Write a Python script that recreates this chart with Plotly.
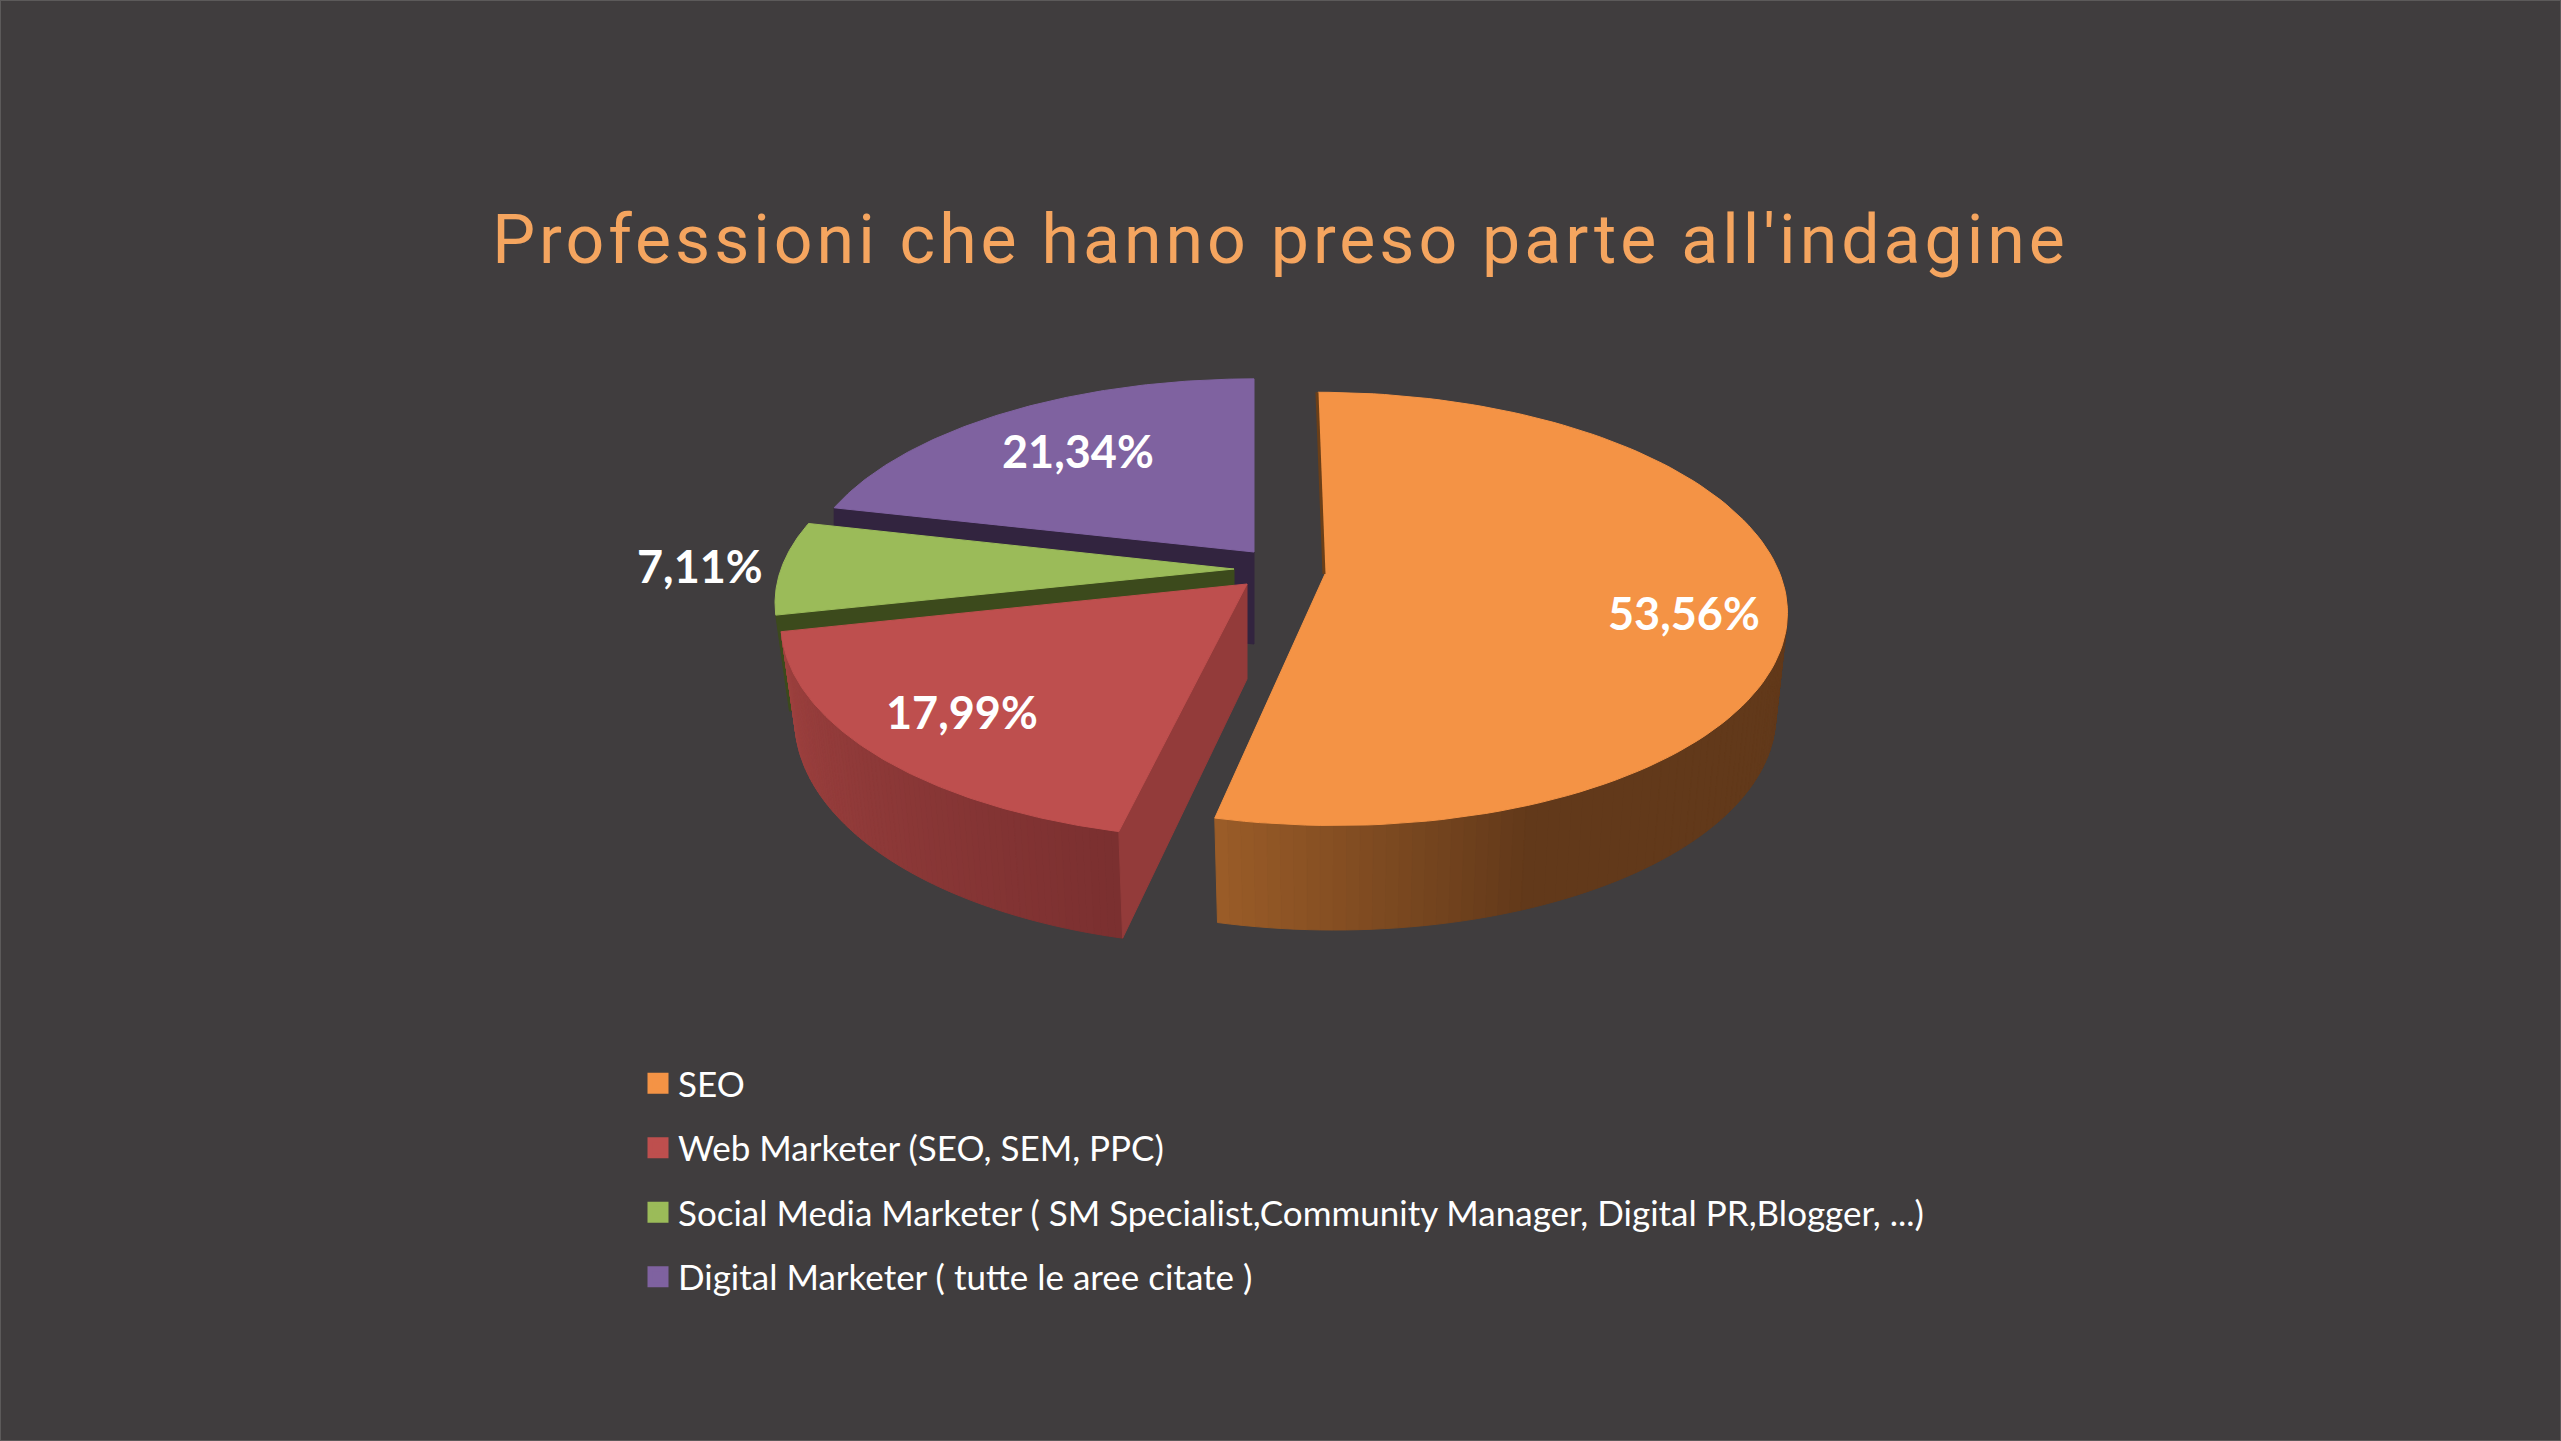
'''
Exploded 3D-look pie of the survey professions. Plotly has no 3D pie so the
slices are filled scatter polygons, angles come from the shares.
'''

import numpy as np
import plotly.graph_objects as go

W, H = 2561, 1441

categories = ['SEO', 'Web Marketer (SEO, SEM, PPC)',
              'Social Media Marketer ( SM Specialist,Community Manager, Digital PR,Blogger, ...)',
              'Digital Marketer ( tutte le aree citate )']
shares = [53.56, 17.99, 7.11, 21.34]
top_colors = ['#F49345', '#BE4F4E', '#9BBB59', '#7F62A0']

TITLE = "Professioni che hanno preso parte all'indagine"
BG = '#403D3E'
P = 0.161  # perspective of the disc

# per slice projection, same order as categories
apex_x = [1325, 1247, 1234, 1254]
apex_y = [574, 584, 569, 552]
rad_x = [455, 459, 453, 447]
rad_y = [211, 214, 207, 201]
shear = [-0.018, 0.014, 0, 0]
depth = [102, 95, 96, 92]
bottom_kx = [0.975, 0.97, 0.97, 1.0]
bottom_ky = [1.01, 1.047, 1.0, 1.0]
label_x = [1684, 962, 700, 1078]
label_y = [613, 712, 566, 451]

# start, end colour of the curved wall and how much of the arc the fade takes
wall_fade = {0: ('#9A5C28', '#62391A', 0.3), 1: ('#A04240', '#7B3030', 1.0)}
cut_colors = {1: '#933B3A', 2: '#3C4A1C', 3: '#32243F'}

ends = np.cumsum(shares) / sum(shares) * 360
starts = np.concatenate([[0], ends[:-1]])


def project(i, ang, rim=1.0, bottom=False):
    a = np.radians(ang)
    u, v = rim * np.sin(a), rim * np.cos(a)
    w = 1 + P * v
    x = (u + shear[i] * v) * rad_x[i] / w
    y = -rad_y[i] * v / w
    if bottom:
        x = x * bottom_kx[i]
        y = y * bottom_ky[i] + depth[i]
    return apex_x[i] + x, apex_y[i] + y


def poly(fig, x, y, color):
    fig.add_trace(go.Scatter(x=list(x), y=list(y), mode='lines', fill='toself',
                             fillcolor=color, line=dict(color=color, width=1),
                             hoverinfo='skip', showlegend=False))


def mix(c1, c2, t):
    a = [int(c1[k:k + 2], 16) for k in (1, 3, 5)]
    b = [int(c2[k:k + 2], 16) for k in (1, 3, 5)]
    return 'rgb(%d,%d,%d)' % tuple(a[k] + (b[k] - a[k]) * t for k in range(3))


fig = go.Figure()

# legend entries only
for i, name in enumerate(categories):
    fig.add_trace(go.Scatter(x=[None], y=[None], mode='markers', name=name, legendgroup=name,
                             marker=dict(symbol='square', size=16, color=top_colors[i],
                                         line=dict(color=top_colors[i], width=5))))

# back to front
for i in [3, 2, 1, 0]:
    s, e = starts[i], ends[i]
    # curved outer wall as small strips, left end first
    if i in wall_fade:
        c1, c2, fade = wall_fade[i]
        lo = max(s, 80)
        edges = np.linspace(e, lo, 81)
        for k in range(80):
            t = min(1, (e - edges[k]) / ((e - lo) * fade))
            x1, y1 = project(i, edges[k])
            x2, y2 = project(i, edges[k + 1])
            x3, y3 = project(i, edges[k + 1], bottom=True)
            x4, y4 = project(i, edges[k], bottom=True)
            poly(fig, [x1, x2, x3, x4, x1], [y1, y2, y3, y4, y1], mix(c1, c2, t))
    # flat cut wall
    if i in cut_colors:
        x1, y1 = project(i, s, 0)
        x2, y2 = project(i, s)
        x3, y3 = project(i, s, bottom=True)
        x4, y4 = project(i, s, 0, bottom=True)
        poly(fig, [x1, x2, x3, x4, x1], [y1, y2, y3, y4, y1], cut_colors[i])
    # top face
    arc = np.linspace(s, e, 120)
    xs, ys = project(i, arc)
    ax, ay = project(i, 0.0, 0)
    poly(fig, np.r_[ax, xs, ax], np.r_[ay, ys, ay], top_colors[i])

# dark edge on the orange slice next to the gap
x1, y1 = project(0, 0.0, 0)
x2, y2 = project(0, 0.0)
fig.add_trace(go.Scatter(x=[x1 - 1, x2 - 1], y=[y1, y2], mode='lines', hoverinfo='skip',
                         line=dict(color='#6B3F18', width=3), showlegend=False))

for i, val in enumerate(shares):
    fig.add_annotation(x=label_x[i], y=label_y[i], text=f'{val:.2f}%'.replace('.', ','),
                       showarrow=False, font=dict(family='Lato', size=45, color='white', weight='bold'))

fig.add_shape(type='rect', xref='paper', yref='paper', x0=0, x1=1, y0=0, y1=1,
              line=dict(color='#5C5A5A', width=2))

fig.update_layout(
    width=W, height=H, margin=dict(l=0, r=0, t=0, b=0),
    paper_bgcolor=BG, plot_bgcolor=BG,
    title=dict(text=TITLE, x=0.5, xanchor='center', y=1 - 239 / H, yanchor='middle',
               font=dict(family='Roboto', size=68, color='#F5A55F')),
    xaxis=dict(range=[0, W], visible=False, fixedrange=True),
    yaxis=dict(range=[H, 0], visible=False, fixedrange=True),
    legend=dict(x=638 / W, xanchor='left', y=1 - 1054 / H, yanchor='top',
                bgcolor='rgba(0,0,0,0)', traceorder='grouped', tracegroupgap=16,
                itemsizing='trace', font=dict(family='Lato', size=35, color='white')),
)

# page margin off, title gets the wide tracking of the original
post = """
document.body.style.margin = '0';
document.body.style.overflow = 'hidden';
document.querySelectorAll('.gtitle').forEach(function (t) { t.style.letterSpacing = '4px'; });
"""
fig.write_html('out.html', post_script=post, config=dict(displayModeBar=False))
